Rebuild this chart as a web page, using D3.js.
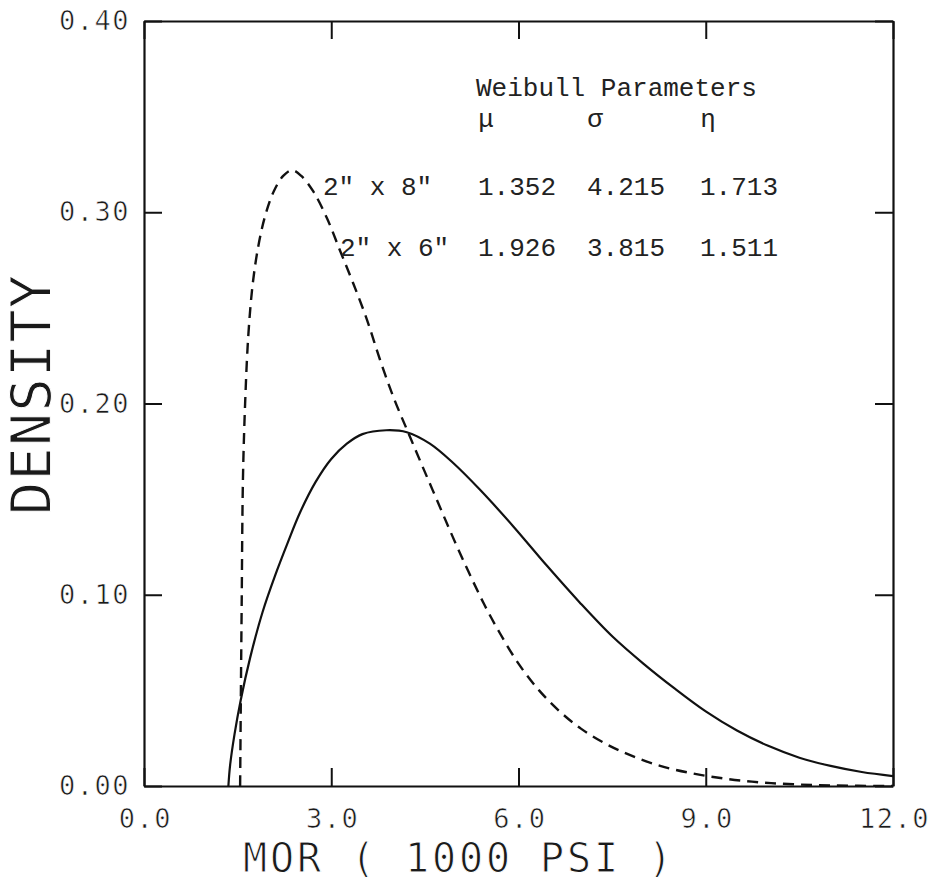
<!DOCTYPE html>
<html>
<head>
<meta charset="utf-8">
<script src="https://cdn.jsdelivr.net/npm/d3@7"></script>
<style>
body { margin: 0; background: #fff; }
.plot text { font-family: "DejaVu Sans Mono", monospace; fill: #1a1a1a; }
.plot text.note { font-family: "Liberation Mono", "Courier New", monospace; font-size: 26px; fill: #222; }
</style>
</head>
<body>
<div id="chart"></div>
<script>
// axis ticks
var xTicks = [0, 3, 6, 9, 12];
var xTickLabels = ["0.0", "3.0", "6.0", "9.0", "12.0"];
var yTicks = [0, 0.1, 0.2, 0.3, 0.4];
var yTickLabels = ["0.00", "0.10", "0.20", "0.30", "0.40"];

// solid curve
var solidMor = [1.352, 1.38, 1.45, 1.55, 1.70, 1.90, 2.10, 2.30, 2.50, 2.75, 3.00, 3.25, 3.50, 3.88, 4.21,
  4.58, 4.95, 5.38, 5.91, 6.46, 6.98, 7.51, 8.00, 8.50, 9.00, 9.50, 10.00, 10.50, 11.00, 11.50, 12.0];
var solidDensity = [0.000, 0.011, 0.027, 0.045, 0.067, 0.091, 0.110, 0.127, 0.143, 0.159, 0.171, 0.179, 0.184, 0.186, 0.185,
  0.179, 0.169, 0.155, 0.136, 0.115, 0.096, 0.078, 0.064, 0.051, 0.039, 0.029, 0.021, 0.0148, 0.0105, 0.0073, 0.0052];

// dashed curve
var dashedMor = [1.54, 1.55, 1.565, 1.585, 1.62, 1.67, 1.74, 1.83, 1.94, 2.08, 2.23, 2.37, 2.52, 2.71, 2.93,
  3.14, 3.35, 3.57, 3.78, 4.00, 4.23, 4.45, 4.70, 4.95, 5.20, 5.45, 5.70, 6.00, 6.33, 6.66,
  7.00, 7.40, 7.80, 8.27, 8.80, 9.34, 9.87, 10.40, 11.00, 12.0];
var dashedDensity = [0.000, 0.040, 0.095, 0.160, 0.200, 0.235, 0.262, 0.282, 0.298, 0.311, 0.319, 0.322, 0.319, 0.311, 0.297,
  0.280, 0.263, 0.244, 0.223, 0.203, 0.185, 0.168, 0.149, 0.130, 0.112, 0.095, 0.080, 0.064, 0.050, 0.039,
  0.030, 0.022, 0.016, 0.0105, 0.0065, 0.0037, 0.0019, 0.0009, 0.0003, 0.0];

// parameter table
var paramTitle = "Weibull Parameters";
var paramSymbols = ["\u03bc", "\u03c3", "\u03b7"];
var sizes = ['2" x 8"', '2" x 6"'];
var muVals = ["1.352", "1.926"];
var sigmaVals = ["4.215", "3.815"];
var etaVals = ["1.713", "1.511"];

var margin = {top: 21, right: 45, bottom: 96, left: 144};
var width = 938 - margin.left - margin.right;
var height = 882 - margin.top - margin.bottom;
var tickLen = 18;

var svg = d3.select("#chart").append("svg")
    .attr("width", 938)
    .attr("height", 882)
    .attr("class", "plot");

var g = svg.append("g")
    .attr("transform", "translate(" + margin.left + "," + margin.top + ")");

var x = d3.scaleLinear().domain([0, 12]).range([0, width]);
var y = d3.scaleLinear().domain([0, 0.4]).range([height, 0]);

g.append("clipPath").attr("id", "clip")
  .append("rect").attr("width", width).attr("height", height);

// ticks on all four sides, pointing in
var xb = g.append("g")
    .attr("transform", "translate(0," + height + ")")
    .call(d3.axisBottom(x).tickValues(xTicks).tickSizeInner(-tickLen).tickSizeOuter(0).tickPadding(23)
      .tickFormat(function(d, i) { return xTickLabels[i]; }));
var xt = g.append("g")
    .call(d3.axisTop(x).tickValues(xTicks).tickSizeInner(-tickLen).tickSizeOuter(0).tickFormat(""));
var yl = g.append("g")
    .call(d3.axisLeft(y).tickValues(yTicks).tickSizeInner(-tickLen).tickSizeOuter(0).tickPadding(14)
      .tickFormat(function(d, i) { return yTickLabels[i]; }));
var yr = g.append("g")
    .attr("transform", "translate(" + width + ",0)")
    .call(d3.axisRight(y).tickValues(yTicks).tickSizeInner(-tickLen).tickSizeOuter(0).tickFormat(""));

[xb, xt, yl, yr].forEach(function(a) {
  a.select(".domain").attr("stroke", "#111").attr("stroke-width", 2.2);
  a.selectAll(".tick line").attr("stroke", "#111").attr("stroke-width", 2);
  a.selectAll("text")
    .attr("font-family", "DejaVu Sans Mono, monospace")
    .attr("font-size", 27)
    .attr("letter-spacing", 1.5)
    .attr("fill", "#1a1a1a")
    .attr("stroke", "#fff")
    .attr("stroke-width", 0.6);
});
xb.selectAll("text").attr("dx", 1);

var line = d3.line()
    .x(function(d) { return x(d[0]); })
    .y(function(d) { return y(d[1]); })
    .curve(d3.curveCatmullRom.alpha(0.5));

var solidData = solidMor.map(function(v, i) { return [v, solidDensity[i]]; });
var dashedData = dashedMor.map(function(v, i) { return [v, dashedDensity[i]]; });

g.append("path")
    .datum(solidData)
    .attr("clip-path", "url(#clip)")
    .attr("fill", "none")
    .attr("stroke", "#111")
    .attr("stroke-width", 2.2)
    .attr("d", line);

g.append("path")
    .datum(dashedData)
    .attr("clip-path", "url(#clip)")
    .attr("fill", "none")
    .attr("stroke", "#111")
    .attr("stroke-width", 2.4)
    .attr("stroke-dasharray", "11,7")
    .attr("d", line);

// axis titles
svg.append("text")
    .attr("transform", "translate(50,395) rotate(-90)")
    .attr("text-anchor", "middle")
    .attr("font-size", 55)
    .attr("textLength", 240)
    .attr("lengthAdjust", "spacing")
    .attr("stroke", "#fff")
    .attr("stroke-width", 1)
    .text("DENSITY");

svg.append("text")
    .attr("x", 243)
    .attr("y", 872)
    .attr("font-size", 40)
    .attr("textLength", 429)
    .attr("lengthAdjust", "spacing")
    .attr("stroke", "#fff")
    .attr("stroke-width", 1)
    .text("MOR ( 1000 PSI )");

// parameter table (typewriter text)
svg.append("text").attr("class", "note")
    .attr("x", 476).attr("y", 96)
    .text(paramTitle);

var colX = [478, 587, 700];
svg.selectAll(".sym")
  .data(paramSymbols)
  .enter().append("text")
    .attr("class", "note sym")
    .attr("x", function(d, i) { return colX[i] + 8; })
    .attr("y", 127)
    .attr("text-anchor", "middle")
    .text(function(d) { return d; });

var rowY = [195, 256];
var labelX = [323, 340];
sizes.forEach(function(s, i) {
  svg.append("text").attr("class", "note")
      .attr("x", labelX[i]).attr("y", rowY[i]).text(s);
  [muVals[i], sigmaVals[i], etaVals[i]].forEach(function(v, j) {
    svg.append("text").attr("class", "note")
        .attr("x", colX[j]).attr("y", rowY[i]).text(v);
  });
});
</script>
</body>
</html>
